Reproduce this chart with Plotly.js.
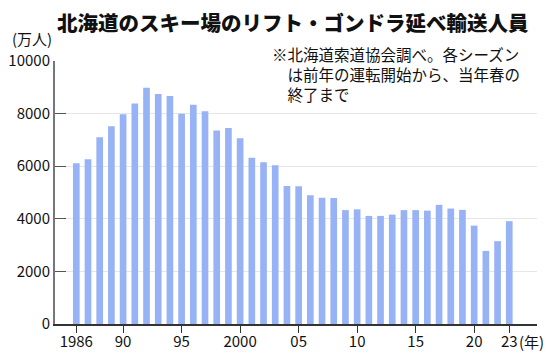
<!DOCTYPE html>
<html>
<head>
<meta charset="utf-8">
<script src="https://cdn.plot.ly/plotly-3.0.1.min.js"></script>
<style>
  html, body { margin: 0; padding: 0; background: #fff; }
  #chart { width: 550px; height: 363px; }
</style>
</head>
<body>
<div id="chart"></div>
<script>
// Season (year of spring end)
const years = [1986, 1987, 1988, 1989, 1990, 1991, 1992, 1993, 1994, 1995,
               1996, 1997, 1998, 1999, 2000, 2001, 2002, 2003, 2004, 2005,
               2006, 2007, 2008, 2009, 2010, 2011, 2012, 2013, 2014, 2015,
               2016, 2017, 2018, 2019, 2020, 2021, 2022, 2023];
// Riders (10,000 persons)
const riders = [6110, 6260, 7100, 7520, 7980, 8380, 8980, 8750, 8670, 7990,
                8340, 8090, 7360, 7450, 7060, 6320, 6150, 6040, 5250, 5240,
                4900, 4800, 4790, 4330, 4360, 4110, 4110, 4160, 4330, 4330,
                4310, 4530, 4390, 4340, 3740, 2780, 3150, 3910];
const tickYears = [1986, 1990, 1995, 2000, 2005, 2010, 2015, 2020, 2023];
const tickLabels = ['1986', '90', '95', '2000', '05', '10', '15', '20', '23'];
const yTicks = [0, 2000, 4000, 6000, 8000, 10000];
const yTickLabels = ['0', '2000', '4000', '6000', '8000', '10000'];

const titleText = '北海道のスキー場のリフト・ゴンドラ延べ輸送人員';
const unitText = '(万人)';
const yearUnit = '(年)';
const noteLines = ['※北海道索道協会調べ。各シーズン', '　は前年の運転開始から、当年春の', '　終了まで'];

const FONT = '"Noto Sans CJK JP", "Noto Sans", sans-serif';

const trace = {
  type: 'bar',
  x: years,
  y: riders,
  width: 0.57,
  marker: { color: '#98b2f6', line: { width: 0 } },
  hoverinfo: 'x+y'
};

const layout = {
  width: 550,
  height: 363,
  margin: { l: 55, r: 13, t: 61, b: 39 },
  paper_bgcolor: '#ffffff',
  plot_bgcolor: '#ffffff',
  showlegend: false,
  font: { family: FONT, size: 15, color: '#111' },
  title: {
    text: titleText,
    font: { family: FONT, size: 20.5, color: '#111', weight: 900 },
    xref: 'container', yref: 'container',
    x: 57 / 550, xanchor: 'left',
    y: 1 - 24 / 363, yanchor: 'middle'
  },
  xaxis: {
    range: [1984.18, 2025.37],
    tickmode: 'array',
    tickvals: tickYears,
    ticktext: tickLabels,
    ticks: 'outside',
    ticklen: 7,
    tickwidth: 1.2,
    tickcolor: '#333',
    ticklabelstandoff: -4,
    showline: true,
    linecolor: '#333',
    linewidth: 1.5,
    showgrid: false,
    zeroline: false,
    tickfont: { family: FONT, size: 15, color: '#111' },
    fixedrange: true
  },
  yaxis: {
    range: [0, 10000],
    tickmode: 'array',
    tickvals: yTicks,
    ticktext: yTickLabels,
    ticks: 'inside',
    ticklen: 11,
    tickwidth: 1.2,
    tickcolor: '#555',
    showline: true,
    linecolor: '#777',
    linewidth: 2,
    showgrid: true,
    gridcolor: '#e6e6e6',
    gridwidth: 1,
    zeroline: false,
    tickfont: { family: FONT, size: 15, color: '#111' },
    fixedrange: true
  },
  annotations: [
    {
      text: unitText,
      xref: 'paper', yref: 'paper',
      x: -45 / 482, xanchor: 'left',
      y: 1, yshift: 23, yanchor: 'middle',
      showarrow: false,
      font: { family: FONT, size: 15, color: '#111' }
    },
    {
      text: noteLines.join('<br>'),
      xref: 'paper', yref: 'paper',
      x: (270 - 55) / 482, xanchor: 'left',
      y: 1, yshift: 20, yanchor: 'top',
      align: 'left',
      showarrow: false,
      bgcolor: '#ffffff',
      font: { family: FONT, size: 15.5, color: '#111' }
    },
    {
      text: yearUnit,
      xref: 'x', yref: 'paper',
      x: 2023, xshift: 8, xanchor: 'left',
      y: 0, yshift: -17, yanchor: 'middle',
      showarrow: false,
      font: { family: FONT, size: 15, color: '#111' }
    }
  ]
};

Plotly.newPlot('chart', [trace], layout, { displayModeBar: false, staticPlot: true });
</script>
</body>
</html>
